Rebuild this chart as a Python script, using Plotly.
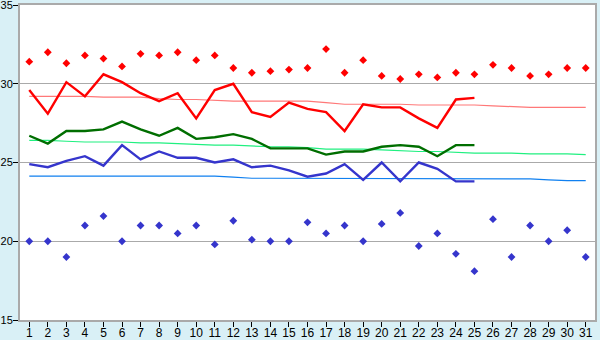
import plotly.graph_objects as go

days = list(range(1, 32))
day_labels = [str(d) for d in days]

max_points = [31.4, 32.0, 31.3, 31.8, 31.6, 31.1, 31.9, 31.8, 32.0, 31.5,
              31.8, 31.0, 30.7, 30.8, 30.9, 31.0, 32.2, 30.7, 31.5, 30.5,
              30.3, 30.6, 30.4, 30.7, 30.6, 31.2, 31.0, 30.5, 30.6, 31.0, 31.0]
min_points = [20.0, 20.0, 19.0, 21.0, 21.6, 20.0, 21.0, 21.0, 20.5, 21.0,
              19.8, 21.3, 20.1, 20.0, 20.0, 21.2, 20.5, 21.0, 20.0, 21.1,
              21.8, 19.7, 20.5, 19.2, 18.1, 21.4, 19.0, 21.0, 20.0, 20.7, 19.0]

line_days = list(range(1, 26))
red_line = [29.6, 28.1, 30.1, 29.2, 30.6, 30.1, 29.4, 28.9, 29.4, 27.8,
            29.6, 30.0, 28.2, 27.9, 28.8, 28.4, 28.2, 27.0, 28.7, 28.5,
            28.5, 27.8, 27.2, 29.0, 29.1]
green_line = [26.7, 26.2, 27.0, 27.0, 27.1, 27.6, 27.1, 26.7, 27.2, 26.5,
              26.6, 26.8, 26.5, 25.9, 25.9, 25.9, 25.5, 25.7, 25.7, 26.0,
              26.1, 26.0, 25.4, 26.1, 26.1]
blue_line = [24.9, 24.7, 25.1, 25.4, 24.8, 26.1, 25.2, 25.7, 25.3, 25.3,
             25.0, 25.2, 24.7, 24.8, 24.5, 24.1, 24.3, 24.9, 23.9, 25.0,
             23.8, 25.0, 24.6, 23.8, 23.8]

red_normal = [29.2, 29.2, 29.2, 29.2, 29.15, 29.15, 29.15, 29.05, 29.0, 29.0,
              28.95, 28.9, 28.9, 28.9, 28.9, 28.9, 28.8, 28.7, 28.7, 28.7,
              28.7, 28.65, 28.65, 28.65, 28.65, 28.6, 28.55, 28.5, 28.5, 28.5, 28.5]
green_normal = [26.4, 26.4, 26.35, 26.3, 26.3, 26.3, 26.25, 26.25, 26.2, 26.15,
                26.1, 26.1, 26.05, 26.0, 26.0, 25.95, 25.85, 25.85, 25.85, 25.8,
                25.75, 25.7, 25.7, 25.65, 25.6, 25.6, 25.6, 25.55, 25.55, 25.55, 25.5]
blue_normal = [24.13, 24.13, 24.13, 24.13, 24.13, 24.13, 24.13, 24.13, 24.13, 24.13,
               24.13, 24.07, 24.0, 24.0, 24.0, 24.0, 24.0, 24.0, 24.0, 24.0,
               24.0, 23.96, 23.96, 23.96, 23.96, 23.96, 23.96, 23.96, 23.9, 23.85, 23.85]

fig = go.Figure()

for vals, col in [(red_normal, "#FF7878"), (green_normal, "#20F080"), (blue_normal, "#1080F0")]:
    fig.add_trace(go.Scatter(x=days, y=vals, mode="lines",
                             line=dict(color=col, width=1.2), hoverinfo="skip"))

for vals, col in [(red_line, "#FF0000"), (green_line, "#006E00"), (blue_line, "#3535CC")]:
    fig.add_trace(go.Scatter(x=line_days, y=vals, mode="lines",
                             line=dict(color=col, width=2.4)))

fig.add_trace(go.Scatter(x=days, y=max_points, mode="markers",
                         marker=dict(symbol="diamond", size=6, color="#FF0000")))
fig.add_trace(go.Scatter(x=days, y=min_points, mode="markers",
                         marker=dict(symbol="diamond", size=6, color="#3535CC")))

fig.update_layout(
    width=600, height=340,
    margin=dict(l=20, r=5, t=5, b=20),
    paper_bgcolor="#D9F0F6",
    plot_bgcolor="#FFFFFF",
    showlegend=False,
    font=dict(family="Liberation Sans", size=12, color="#000000"),
)
fig.update_xaxes(
    range=[0.5, 31.5], tickmode="array", tickvals=days, ticktext=day_labels,
    showgrid=False, zeroline=False, ticks="outside", ticklen=5,
    tickcolor="#000000", showline=True, linecolor="#AAAAAA", linewidth=2, mirror=True,
    automargin=False, ticklabelstandoff=-4, ticklabeloverflow="allow",
)
fig.update_yaxes(
    range=[15, 35], tickvals=[15, 20, 25, 30, 35],
    showgrid=True, gridcolor="#AAAAAA", gridwidth=1, zeroline=False,
    ticks="outside", ticklen=5, tickcolor="#000000",
    showline=True, linecolor="#AAAAAA", linewidth=2, mirror=True,
    automargin=False, ticklabelstandoff=-2, ticklabeloverflow="allow",
    tickfont=dict(size=11),
)

fig.write_html("out.html")
